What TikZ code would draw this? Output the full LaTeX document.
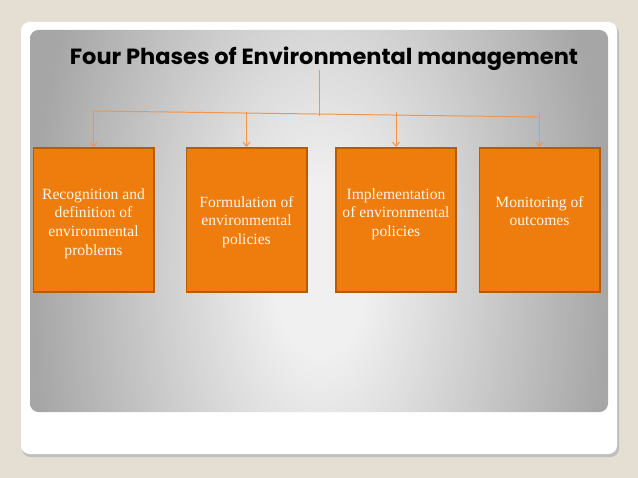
\documentclass[tikz,border=0pt]{standalone}
\usepackage{fontspec}
\usepackage{graphicx}
\setmainfont{Liberation Serif}
\newfontfamily\titlefont{Poppins}
\usetikzlibrary{positioning,arrows.meta}

\definecolor{slidebg}{HTML}{E4DED3}
\definecolor{panelin}{HTML}{F0F0F0}
\definecolor{panelout}{HTML}{A6A6A6}
\definecolor{phasefill}{HTML}{EE7D0E}
\definecolor{phaseedge}{HTML}{B65C05}
\definecolor{linkcol}{HTML}{F0954A}
\definecolor{phaseink}{HTML}{FFF6EA}

\pgfdeclareradialshading{panelglow}{\pgfpoint{0bp}{0bp}}{%
  color(0bp)=(panelin); color(4bp)=(panelin);
  color(25bp)=(panelout); color(50bp)=(panelout)}

\begin{document}
\begin{tikzpicture}[
    x=0.025cm,
    y=-0.025cm,
    phase/.style={
        draw=phaseedge,
        line width=1.4pt,
        fill=phasefill,
        minimum width=3.0cm,
        minimum height=3.6cm
    },
    phasetext/.style={
        text=phaseink,
        align=center,
        inner sep=0pt,
        anchor=north,
        font=\fontsize{11.1}{13.3}\selectfont
    },
    heading/.style={font=\titlefont\bfseries, inner sep=0pt, anchor=base},
    link/.style={draw=linkcol, line width=0.7pt},
    arrow/.style={link, -{Straight Barb[length=3pt, width=5pt]}}
]
\useasboundingbox (0,0) rectangle (638,478);

% ============================================================
% SLIDE
% ============================================================
\fill[slidebg] (0,0) rectangle (638,478);
\fill[black!25, rounded corners=6pt] (22,25) rectangle (619,457);
\fill[white, rounded corners=6pt] (21,22) rectangle (617,454);
\begin{scope}
  \clip[rounded corners=6pt] (30,30) rectangle (608,412);
  \shade[shading=panelglow] (30,-260) rectangle (610,800);
\end{scope}

% ============================================================
% TITLE
% ============================================================
\node[heading] (title) at (324,65)
    {\resizebox{12.7cm}{0.44cm}{Four Phases of Environmental management}};

% ============================================================
% PHASES
% ============================================================
\node[phase] (b1) at (93.5,220) {};
\node[phase] (b2) at (246.5,220) {};
\node[phase] (b3) at (396,220) {};
\node[phase] (b4) at (539.5,220) {};

\node[phasetext] (t1) at (93.5,188) {Recognition and\\definition of\\environmental\\problems};
\node[phasetext] (t2) at (246.5,196) {Formulation of\\environmental\\policies};
\node[phasetext] (t3) at (396,188) {Implementation\\of environmental\\policies};
\node[phasetext] (t4) at (539.5,196) {Monitoring of\\outcomes};

% ============================================================
% CONNECTORS
% ============================================================
\coordinate (top) at (319,70);
\coordinate (hub) at (319,116);
\coordinate (left) at (93.5,111);
\coordinate (right) at (539.5,117);
\coordinate (d1) at (93.5,111);
\coordinate (d2) at (246.5,112);
\coordinate (d3) at (396,112);
\coordinate (d4) at (539.5,112);

\draw[link] (top) -- (hub);
\draw[link] (left) -- (right);
\draw[arrow] (d1) -- (b1.north);
\draw[arrow] (d2) -- (b2.north);
\draw[arrow] (d3) -- (b3.north);
\draw[arrow] (d4) -- (b4.north);

\end{tikzpicture}
\end{document}
